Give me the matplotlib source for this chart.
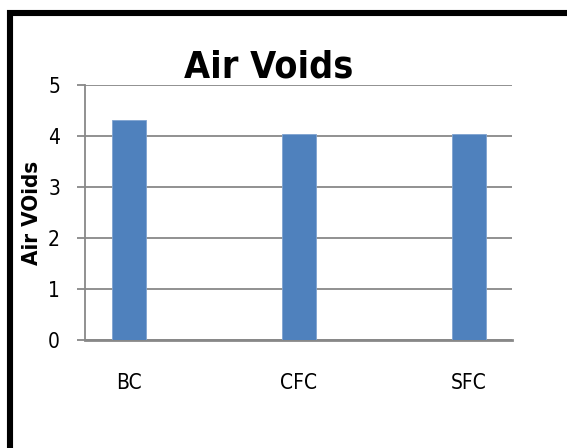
import matplotlib
matplotlib.use("Agg")
import matplotlib.pyplot as plt
from matplotlib import font_manager
from matplotlib.patches import Rectangle

# donnees
categories = ["BC", "CFC", "SFC"]
air_voids = [4.31, 4.04, 4.04]
yticks = [0, 1, 2, 3, 4, 5]

# police etroite si disponible
noms = {f.name for f in font_manager.fontManager.ttflist}
police = "Liberation Sans Narrow" if "Liberation Sans Narrow" in noms else "DejaVu Sans"
plt.rcParams["font.family"] = police
plt.rcParams["font.stretch"] = "condensed"

W, H = 567, 448
fig = plt.figure(figsize=(W / 100, H / 100), dpi=100)
ax = fig.add_axes([85 / W, 1 - 340 / H, 427 / W, 255 / H])

x = list(range(len(categories)))
ax.bar(x, air_voids, width=0.2, color="#4F81BD", edgecolor="#7FA3D0", linewidth=0.6, zorder=3)

ax.set_xlim(-0.258, 2.253)
ax.set_ylim(0, 5)
ax.set_yticks(yticks)
ax.set_xticks(x)
ax.set_xticklabels(categories)

gris = "#888888"
ax.grid(axis="y", color=gris, linewidth=1.3, zorder=0)
for cote in ["top", "right"]:
    ax.spines[cote].set_visible(False)
ax.spines["left"].set_color(gris)
ax.spines["left"].set_linewidth(1.3)
ax.spines["bottom"].set_color(gris)
ax.spines["bottom"].set_linewidth(2)
ax.tick_params(axis="y", length=6, width=1.3, color=gris, pad=12, labelsize=15)
ax.tick_params(axis="x", length=0, pad=24, labelsize=15)

# titre et label y centres sur la zone du graphique
fig.text(269 / W, 1 - 78 / H, "Air Voids", ha="center", va="baseline",
         fontsize=27, fontweight="bold")
fig.text(32 / W, 1 - 213 / H, "Air VOids", ha="center", va="center",
         rotation=90, fontsize=16, fontweight="bold")

# cadre noir (coupe a droite et en bas)
cadre = Rectangle((10 / W, -0.2), 1.2, 1 - 13 / H + 0.2, transform=fig.transFigure,
                  fill=False, edgecolor="black", linewidth=4.4)
fig.patches.append(cadre)

fig.savefig("out.png", dpi=100)
